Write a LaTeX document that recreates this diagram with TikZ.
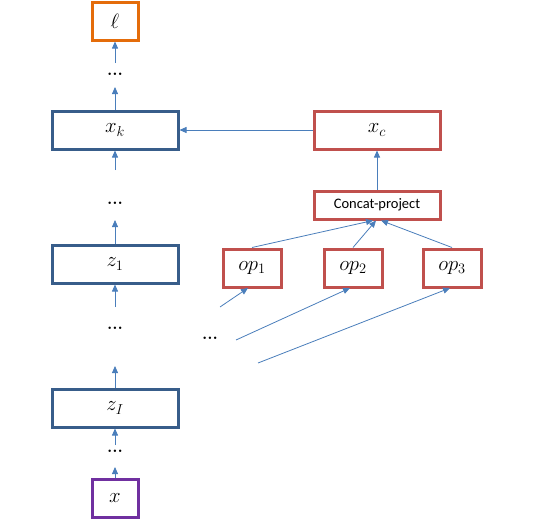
\documentclass[tikz,border=0pt]{standalone}
\usepackage{fontspec}
\newfontfamily\calibri{Carlito}
\usetikzlibrary{arrows.meta}
\definecolor{bluebox}{HTML}{385D8A}
\definecolor{redbox}{HTML}{C0504D}
\definecolor{orangebox}{HTML}{E46C0A}
\definecolor{purplebox}{HTML}{7030A0}
\definecolor{arrowc}{HTML}{4A7EBB}
\begin{document}
\begin{tikzpicture}[x=1pt,y=-1pt,
  box/.style={draw, line width=3pt, minimum height=38pt, inner sep=0pt, font=\fontsize{22}{24}\selectfont},
  wide/.style={box, minimum width=126pt},
  small/.style={box, minimum width=46pt},
  opbox/.style={box, minimum width=58pt},
  dots/.style={inner sep=0pt, font=\bfseries\fontsize{17}{18}\selectfont},
  arr/.style={draw=arrowc, line width=0.8pt, -{Triangle[width=6pt,length=7pt]}},
  ln/.style={draw=arrowc, line width=0.8pt}]
\useasboundingbox (0,0) rectangle (549,522);
\node[small, draw=orangebox] (l) at (115,21) {$\ell$};
\node[dots] (d1) at (115,74) {...};
\node[wide, draw=bluebox] (xk) at (115,130) {$x_k$};
\node[dots] (d2) at (115,203) {...};
\node[wide, draw=bluebox] (z1) at (115,264) {$z_1$};
\node[dots] (d3) at (115,328) {...};
\node[wide, draw=bluebox] (zI) at (115,408) {$z_I$};
\node[dots] (d4) at (115,451) {...};
\node[small, draw=purplebox] (x) at (115,498) {$x$};
\node[wide, draw=redbox] (xc) at (377,130) {$x_c$};
\node[box, draw=redbox, minimum width=126pt, minimum height=28pt, font=\calibri\fontsize{14.5}{16}\selectfont] (cp) at (377,205) {Concat-project};
\node[opbox, draw=redbox] (op1) at (252,268) {$op_1$};
\node[opbox, draw=redbox] (op2) at (353,268) {$op_2$};
\node[opbox, draw=redbox] (op3) at (452,268) {$op_3$};
\node[dots] (d5) at (210,338) {...};
\coordinate (s1) at (220,307);
\coordinate (s2) at (236,340);
\coordinate (s3) at (258,363);
% left column
\draw[arr] (115,63) -- (l.south);
\draw[arr] (xk.north) -- (115,87);
\draw[arr] (115,170) -- (xk.south);
\draw[arr] (z1.north) -- (115,220);
\draw[arr] (115,307) -- (z1.south);
\draw[arr] (zI.north) -- (115,366);
\draw[arr] (115,445) -- (zI.south);
\draw[arr] (x.north) -- (115,467);
% right
\draw[arr] (xc.west) -- (xk.east);
\draw[arr] (cp.north) -- (xc.south);
\draw[arr] (op1.north) -- (373,220.5);
\draw[arr] (op2.north) -- (376,220.5);
\draw[arr] (op3.north) -- (381,220.5);
\draw[arr] (s1) -- (248,288);
\draw[arr] (s2) -- (350,288);
\draw[arr] (s3) -- (450,288);
\end{tikzpicture}
\end{document}
